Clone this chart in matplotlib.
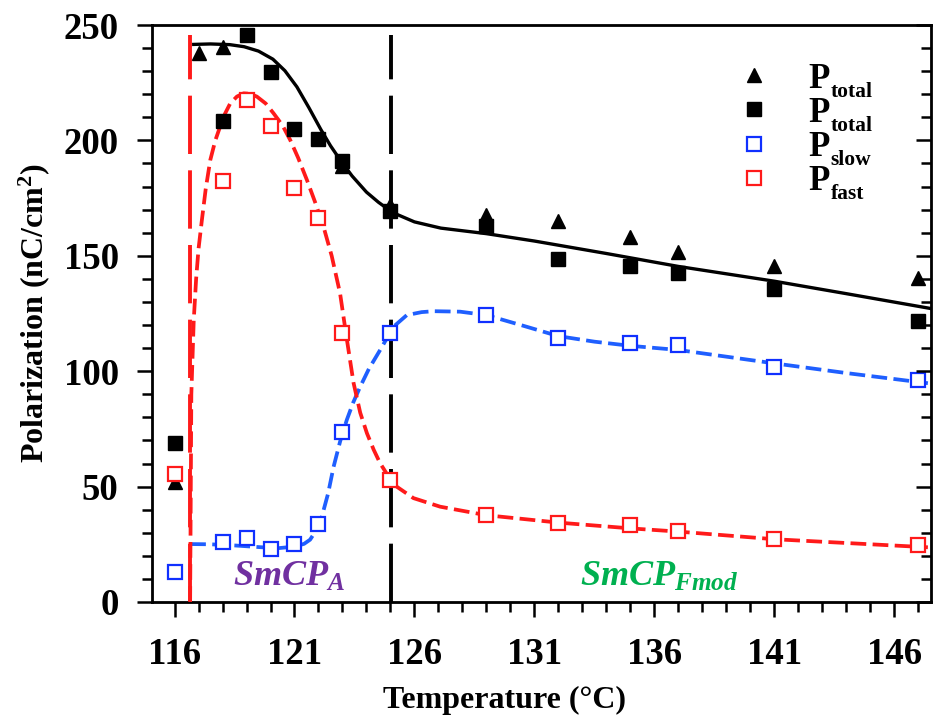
import matplotlib
matplotlib.use('Agg')
import matplotlib.pyplot as plt
from matplotlib.ticker import MultipleLocator
from matplotlib.lines import Line2D

plt.rcParams['font.family'] = 'Liberation Serif'
plt.rcParams['font.weight'] = 'bold'
plt.rcParams['mathtext.fontset'] = 'custom'
plt.rcParams['mathtext.rm'] = 'Liberation Serif:bold'
plt.rcParams['mathtext.bf'] = 'Liberation Serif:bold'
plt.rcParams['mathtext.it'] = 'Liberation Serif:bold:italic'

# ---------------- data ----------------
tri_T = [116, 117, 118, 123, 125, 129, 132, 135, 137, 141, 147]
tri_P = [52, 238, 240.5, 189, 172, 167.5, 165, 158.3, 151.5, 145.8, 140.3]

sq_T = [116, 118, 119, 120, 121, 122, 123, 125, 129, 132, 135, 137, 141, 147]
sq_P = [68.7, 208.5, 245.5, 229.5, 204.8, 200.8, 191, 169.5, 162.8, 148.8, 145.6, 142.6, 135.5, 121.8]

slow_T = [116, 118, 119, 120, 121, 122, 123, 125, 129, 132, 135, 137, 141, 147]
slow_P = [13.1, 26.1, 27.6, 22.8, 25.0, 33.8, 73.8, 116.6, 124.5, 114.4, 112.4, 111.4, 101.7, 96.2]

fast_T = [116, 118, 119, 120, 121, 122, 123, 125, 129, 132, 135, 137, 141, 147]
fast_P = [55.3, 182.3, 217.3, 206.4, 179.4, 166.4, 116.6, 52.9, 37.7, 34.2, 33.4, 30.6, 27.2, 24.7]

# fitted guide curves
fit_total_T = [116.8, 117.5, 118.3, 118.9, 119.5, 120.1, 120.6, 121.1, 121.6, 122.1, 122.5,
               122.9, 123.4, 124.0, 124.5, 125.1, 126.0, 127.1, 129.0, 131.0, 134.0, 137.0,
               141.0, 144.0, 147.5]
fit_total_P = [241.6, 241.8, 241.5, 240.6, 238.7, 235.2, 230.2, 223.2, 214.2, 204.7, 197.7,
               191.6, 184.6, 177.6, 173.2, 168.7, 164.7, 162.0, 159.6, 156.4, 151.0, 145.4,
               139.0, 133.6, 127.2]

fit_slow_T = [116.65, 117.5, 118.5, 119.5, 120.3, 121.0, 121.4, 121.65, 121.9, 122.14, 122.4,
              122.63, 122.9, 123.18, 123.45, 123.74, 124.1, 124.57, 125.13, 125.68, 126.3,
              126.8, 127.9, 129.0, 130.5, 132.0, 133.5, 135.0, 137.0, 139.0, 141.0, 144.0, 147.4]
fit_slow_P = [25.1, 25.0, 24.5, 23.8, 23.3, 24.0, 25.2, 27.0, 31.0, 37.0, 47.0,
              58.6, 69.5, 78.9, 86.5, 93.3, 101.0, 109.2, 119.3, 124.3, 125.6,
              126.0, 125.8, 124.3, 119.8, 115.2, 112.8, 111.0, 109.2, 106.3, 103.4, 99.2, 94.8]

fit_fast_T = [116.65, 116.7, 116.8, 116.9, 117.0, 117.14, 117.3, 117.49, 117.7, 117.9, 118.1,
              118.32, 118.6, 118.88, 119.15, 119.43, 119.8, 120.13, 120.5, 120.82, 121.15,
              121.52, 121.85, 122.21, 122.55, 122.9, 123.15, 123.46, 123.74, 124.02,
              124.3, 124.57, 125.13, 125.96, 127.07, 129.0, 132.0, 135.0, 137.0, 141.0, 147.4]
fit_fast_P = [0, 90, 122, 140, 153, 165.5, 179, 191.5, 200, 206, 211.5,
              216, 219, 220.4, 220.2, 219, 216, 211.7, 206.5, 200.2, 192.5,
              182.8, 173.5, 162.6, 150, 133.7, 116, 95, 82, 73.1,
              66, 60.1, 50.9, 45.0, 41.3, 37.6, 34.4, 31.9, 30.5, 27.2, 23.7]

trans_T = [116.65, 125.02]
trans_top = 245.7

xticks = [116, 121, 126, 131, 136, 141, 146]
yticks = [0, 50, 100, 150, 200, 250]

legend_subs = ['total', 'total', 'slow', 'fast']

# ---------------- figure ----------------
fig = plt.figure(figsize=(9.37, 7.17), dpi=100)
ax = fig.add_axes([0.1622, 0.1604, 0.8314, 0.8047])

# transition lines
ax.plot([trans_T[0], trans_T[0]], [0, trans_top], color='#ff1a1a', lw=2.8,
        dashes=(15, 4.2), zorder=2)
ax.plot([trans_T[1], trans_T[1]], [0, trans_top], color='black', lw=2.8,
        dashes=(15, 4.2), zorder=2)

# fit curves
ax.plot(fit_total_T, fit_total_P, color='black', lw=2.4, zorder=3)
ax.plot(fit_slow_T, fit_slow_P, color='#1f5fff', lw=2.7, dashes=(4.2, 1.7), zorder=3)
ax.plot(fit_fast_T, fit_fast_P, color='#ff1a1a', lw=2.7, dashes=(4.2, 1.7), zorder=3)

# markers
ax.plot(tri_T, tri_P, ls='none', marker='^', ms=10.5, color='black', zorder=5)
ax.plot(sq_T, sq_P, ls='none', marker='s', ms=10, color='black', zorder=5)
ax.plot(slow_T, slow_P, ls='none', marker='s', ms=9.5, mfc='white', mec='#1030ff',
        mew=1.6, zorder=6)
ax.plot(fast_T, fast_P, ls='none', marker='s', ms=9.5, mfc='white', mec='#ff1a1a',
        mew=1.6, zorder=6)

ax.set_xlim(115.06, 147.53)
ax.set_ylim(0, 250)
ax.set_xticks(xticks)
ax.set_yticks(yticks)
ax.xaxis.set_minor_locator(MultipleLocator(1))
ax.yaxis.set_minor_locator(MultipleLocator(10))
ax.tick_params(axis='both', which='major', labelsize=26.5, length=11, width=1.8)
ax.tick_params(axis='both', which='minor', length=7, width=1.8)
ax.tick_params(axis='y', pad=13)
ax.tick_params(axis='x', pad=14)
for s in ax.spines.values():
    s.set_linewidth(2.0)

ax2 = ax.twinx()
ax2.set_ylim(0, 250)
ax2.set_yticks(yticks)
ax2.yaxis.set_minor_locator(MultipleLocator(10))
ax2.tick_params(axis='y', which='both', direction='in', labelright=False, width=1.8)
ax2.tick_params(axis='y', which='major', length=11)
ax2.tick_params(axis='y', which='minor', length=7)

ax.set_xlabel('Temperature (°C)', fontsize=23, fontweight='bold')
ax.xaxis.set_label_coords(0.453, -0.145)
ax.set_ylabel('Polarization (nC/cm$^{2}$)', fontsize=23, fontweight='bold', labelpad=8)

# phase labels
ax.text(118.45, 6.8, r'$\mathit{SmCP}_{\mathit{A}}$', color='#7030a0', fontsize=26,
        ha='left', va='baseline', zorder=7)
ax.text(132.9, 6.8, r'$\mathit{SmCP}_{\mathit{Fmod}}$', color='#00b050', fontsize=26,
        ha='left', va='baseline', zorder=7)

# legend
handles = [
    Line2D([], [], ls='none', marker='^', ms=10.5, color='black'),
    Line2D([], [], ls='none', marker='s', ms=10, color='black'),
    Line2D([], [], ls='none', marker='s', ms=9.5, mfc='white', mec='#1030ff', mew=1.6),
    Line2D([], [], ls='none', marker='s', ms=9.5, mfc='white', mec='#ff1a1a', mew=1.6),
]
leg = ax.legend(handles, ['P', 'P', 'P', 'P'], loc='upper left',
                bbox_to_anchor=(0.728, 0.965), frameon=False, prop={'size': 25, 'weight': 'bold'},
                handlelength=1.0, handletextpad=1.07, labelspacing=0.03, borderpad=0)

fig.canvas.draw()
renderer = fig.canvas.get_renderer()
W, H = fig.bbox.width, fig.bbox.height
for t, sub in zip(leg.get_texts(), legend_subs):
    bb = t.get_window_extent(renderer)
    x0 = bb.x1 + 1
    y0 = bb.y0 - 1
    fig.text(x0 / W, y0 / H, sub, fontsize=15.5, fontweight='bold', ha='left',
             va='baseline')

fig.savefig('out.png', dpi=100)
